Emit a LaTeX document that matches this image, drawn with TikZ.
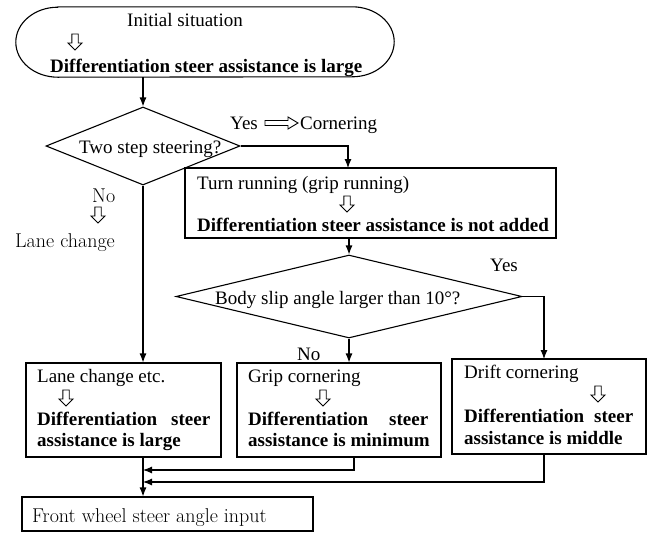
\documentclass[tikz,border=0pt]{standalone}
\usepackage{fontspec}
\newfontfamily\tnr{Liberation Serif}
\usetikzlibrary{arrows.meta,shapes.geometric}
\tikzset{
  dnarrow/.pic={\draw[line width=0.9pt,line join=miter] (-3.2,0) -- (3.2,0) -- (3.2,9) -- (7,9) -- (0,16) -- (-7,9) -- (-3.2,9) -- cycle;},
  box/.style={draw,rectangle,inner sep=0pt,line width=1.1pt},
  dia/.style={draw,diamond,inner sep=0pt,line width=1.1pt},
  txt/.style={inner sep=0pt,anchor=base west,font=\tnr\fontsize{19}{22}\selectfont},
  btxt/.style={inner sep=0pt,anchor=base west,font=\tnr\bfseries\fontsize{19}{22}\selectfont},
  ctxt/.style={inner sep=0pt,anchor=base west,font=\fontsize{20}{22}\selectfont},
  arr/.style={-{Latex[length=9pt,width=7pt]},line width=1.1pt}
}
\begin{document}
\begin{tikzpicture}[x=1pt,y=-1pt]
\useasboundingbox (0,0) rectangle (656,533);
\fill[white] (0,0) rectangle (656,533);

% start (stadium with elliptical ends)
\node[minimum width=378pt,minimum height=70pt,inner sep=0pt] (init) at (205,42) {};
\draw[line width=1.1pt] ([xshift=42pt]init.north west) -- ([xshift=-42pt]init.north east)
  arc[start angle=90,end angle=-90,x radius=42pt,y radius=35pt]
  -- ([xshift=42pt]init.south west)
  arc[start angle=270,end angle=90,x radius=42pt,y radius=35pt] -- cycle;
\node[txt] (t0) at (127,26) {Initial situation};
\pic at (75,34) {dnarrow};
\node[btxt] (t1) at (50,72) {Differentiation steer assistance is large};

% first decision
\node[dia,minimum width=194pt,minimum height=78pt] (d1) at (143,146) {};
\node[txt] (t2) at (79,153) {Two step steering?};
\node[txt] (yes1) at (230,129) {Yes};
\draw[line width=0.9pt,line join=miter] (265,120.5) -- (288,120.5) -- (288,117) -- (298,123) -- (288,129) -- (288,125.5) -- (265,125.5) -- cycle;
\node[txt] (corn) at (300,129) {Cornering};

% turn running box
\node[box,minimum width=371pt,minimum height=70pt] (b2) at (370.5,203) {};
\node[txt] (t3) at (197,189) {Turn running (grip running)};
\pic at (347,196) {dnarrow};
\node[btxt] (t4) at (197,231) {Differentiation steer assistance is not added};

% second decision
\node[dia,minimum width=346pt,minimum height=83pt] (d2) at (349,296.5) {};
\node[txt] (t5) at (215,304) {Body slip angle larger than 10°?};
\node[txt] (yes2) at (490,271) {Yes};
\node[txt] (no2) at (297,360) {No};

% left labels
\node[ctxt] (no1) at (92,202) {No};
\pic at (98,207) {dnarrow};
\node[ctxt] (lc) at (15,247) {Lane change};

% bottom boxes
\node[box,minimum width=195pt,minimum height=94pt] (b3) at (123.5,410) {};
\node[txt] (t6) at (37,382) {Lane change etc.};
\pic at (66,390) {dnarrow};
\node[btxt] (t7) at (37,425) {\hbox to 173pt{Differentiation\hfill steer}};
\node[btxt] (t8) at (37,446) {assistance is large};

\node[box,minimum width=204pt,minimum height=94pt] (b4) at (339,410) {};
\node[txt] (t9) at (248,382) {Grip cornering};
\pic at (323,390) {dnarrow};
\node[btxt] (t10) at (248,425) {\hbox to 180pt{Differentiation\hfill steer}};
\node[btxt] (t11) at (248,446) {assistance is minimum};

\node[box,minimum width=194pt,minimum height=95pt] (b5) at (549,406.5) {};
\node[txt] (t12) at (464,378) {Drift cornering};
\pic at (598,386) {dnarrow};
\node[btxt] (t13) at (464,422) {\hbox to 169pt{Differentiation\hfill steer}};
\node[btxt] (t14) at (464,444) {assistance is middle};

% final box
\node[box,minimum width=291pt,minimum height=34pt] (b6) at (167.5,514) {};
\node[ctxt] (t15) at (32,522) {Front wheel steer angle input};

% helper coordinates
\coordinate (b2in) at (348,168);
\coordinate (b5in) at (544,359);
\coordinate (g1) at (354,457);
\coordinate (m1) at (143,470);
\coordinate (dr1) at (544,454);
\coordinate (m2) at (143,482);

% connectors
\draw[arr] (d1.north |- init.south) -- (d1.north);
\draw[arr] (d1.east) -| (b2in);
\draw[arr] (d2.north |- b2.south) -- (d2.north);
\draw[arr] (d2.east) -| (b5in);
\draw[arr] (d2.south) -- (d2.south |- b4.north);
\draw[arr] (d1.south) -- (d1.south |- b3.north);
\draw[arr] (d1.south |- b3.south) -- (d1.south |- b6.north);
\draw[arr] (g1) |- (m1);
\draw[arr] (dr1) |- (m2);
\end{tikzpicture}
\end{document}
